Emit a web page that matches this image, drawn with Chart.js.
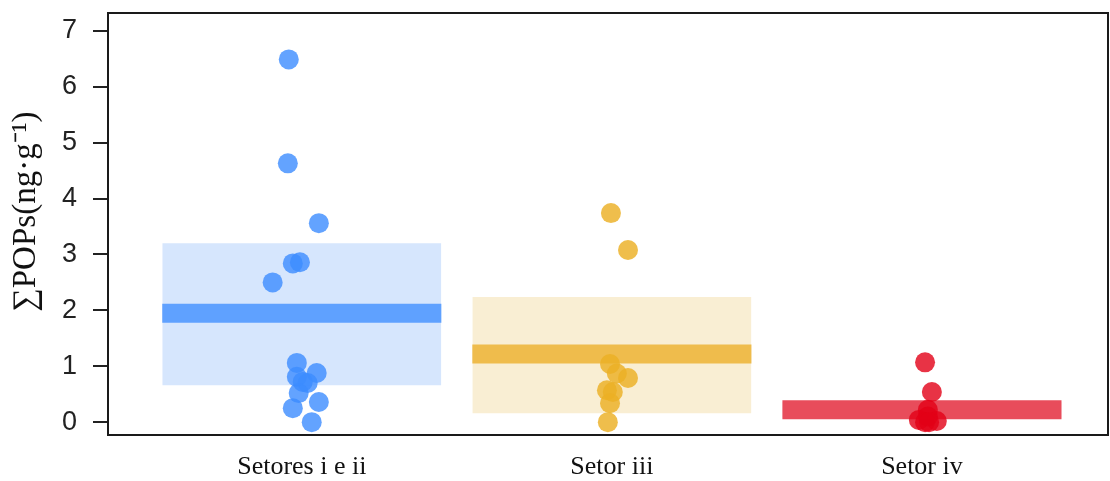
<!DOCTYPE html>
<html>
<head>
<meta charset="utf-8">
<script src="https://cdn.jsdelivr.net/npm/chart.js@4.4.1/dist/chart.umd.min.js"></script>
<style>
  html, body { margin: 0; padding: 0; background: #ffffff; overflow: hidden; }
  #wrap { width: 1110px; height: 481px; }
</style>
</head>
<body>
<div id="wrap"><canvas id="chart"></canvas></div>
<script>
// Sector names and y-axis ticks
const categories = ['Setores i e ii', 'Setor iii', 'Setor iv'];
const yTicks = [0, 1, 2, 3, 4, 5, 6, 7];

// ΣPOPs per sample (ng/g) and horizontal jitter position of each dot
const sector12Values = [6.49, 4.63, 3.56, 2.84, 2.86, 2.50, 1.06, 0.88, 0.81, 0.72, 0.70, 0.52, 0.36, 0.25, 0.00];
const sector12Jitter = [0.958, 0.955, 1.055, 0.971, 0.994, 0.906, 0.984, 1.048, 0.984, 1.003, 1.019, 0.990, 1.055, 0.971, 1.032];
const sector3Values = [3.74, 3.08, 1.04, 0.87, 0.79, 0.57, 0.54, 0.34, 0.00];
const sector3Jitter = [1.997, 2.052, 1.994, 2.016, 2.052, 1.984, 2.003, 1.994, 1.987];
const sector4Values = [1.07, 0.54, 0.22, 0.10, 0.04, 0.02, 0.00, 0.00];
const sector4Jitter = [3.010, 3.032, 3.019, 3.019, 2.990, 3.048, 3.010, 3.023];

// Mean line and interval band per sector
const means = [1.95, 1.22, 0.22];
const bandLow = [0.66, 0.16, 0.08];
const bandHigh = [3.20, 2.24, 0.36];

// Colours per sector
const pointColors = ['rgba(60,140,255,0.80)', 'rgba(236,176,36,0.82)', 'rgba(226,0,22,0.80)'];
const meanColors = ['#5fa1ff', '#efbc4c', '#e84c5b'];
const bandColors = ['#d6e6fd', '#f9eed3', '#fbd9dc'];

const halfWidth = 0.45;
const groups = [
  { values: sector12Values, jitter: sector12Jitter },
  { values: sector3Values, jitter: sector3Jitter },
  { values: sector4Values, jitter: sector4Jitter }
];

const datasets = [];
groups.forEach((g, i) => {
  const c = i + 1;
  // interval band
  datasets.push({
    type: 'line',
    data: [{ x: c - halfWidth, y: bandHigh[i] }, { x: c + halfWidth, y: bandHigh[i] }],
    fill: { value: bandLow[i] },
    backgroundColor: bandColors[i],
    borderWidth: 0,
    pointRadius: 0,
    order: 3
  });
  // mean bar
  datasets.push({
    type: 'line',
    data: [{ x: c - halfWidth, y: means[i] }, { x: c + halfWidth, y: means[i] }],
    borderColor: meanColors[i],
    borderWidth: 19,
    borderCapStyle: 'butt',
    pointRadius: 0,
    fill: false,
    order: 2
  });
  // samples
  datasets.push({
    type: 'scatter',
    data: g.values.map((v, k) => ({ x: g.jitter[k], y: v })),
    backgroundColor: pointColors[i],
    borderWidth: 0,
    pointRadius: 10,
    pointHoverRadius: 10,
    order: 1
  });
});

// Box around the plotting region
const frame = {
  id: 'frame',
  afterDraw(chart) {
    const a = chart.chartArea;
    const ctx = chart.ctx;
    ctx.save();
    ctx.strokeStyle = '#1a1a1a';
    ctx.lineWidth = 2;
    ctx.strokeRect(a.left, a.top, a.right - a.left, a.bottom - a.top);
    ctx.restore();
  }
};

new Chart(document.getElementById('chart'), {
  type: 'scatter',
  data: { datasets },
  options: {
    responsive: true,
    maintainAspectRatio: false,
    animation: false,
    layout: { autoPadding: false, padding: { top: 13, right: 2, left: 0, bottom: 0 } },
    plugins: { legend: { display: false }, tooltip: { enabled: false } },
    scales: {
      x: {
        type: 'linear',
        min: 0.375,
        max: 3.6,
        grid: { display: false, drawTicks: false },
        border: { display: false },
        afterBuildTicks: (axis) => { axis.ticks = categories.map((_, i) => ({ value: i + 1 })); },
        afterFit: (axis) => {
          axis.height = 46;
          axis.paddingLeft = 0; axis.paddingRight = 0;
          axis.paddingTop = 0; axis.paddingBottom = 0;
        },
        ticks: {
          autoSkip: false,
          maxRotation: 0,
          padding: 17,
          color: '#111',
          font: { family: 'Liberation Serif', size: 26 },
          callback: (v) => categories[Math.round(v) - 1] || ''
        }
      },
      y: {
        type: 'linear',
        min: -0.23,
        max: 7.32,
        grid: { drawOnChartArea: false, drawTicks: true, tickLength: 15, tickColor: '#222', lineWidth: 2 },
        border: { display: false },
        afterBuildTicks: (axis) => { axis.ticks = yTicks.map(v => ({ value: v })); },
        afterFit: (axis) => {
          axis.width = 108;
          axis.paddingLeft = 0; axis.paddingRight = 0;
          axis.paddingTop = 0; axis.paddingBottom = 0;
        },
        ticks: {
          padding: 16,
          color: '#222',
          font: { family: 'Liberation Sans', size: 27 }
        },
        title: {
          display: true,
          text: '   ∑POPs(ng·g⁻¹)',
          color: '#111',
          font: { family: 'Liberation Serif', size: 33 },
          padding: { top: 7, bottom: 0 }
        }
      }
    }
  },
  plugins: [frame]
});
</script>
</body>
</html>
